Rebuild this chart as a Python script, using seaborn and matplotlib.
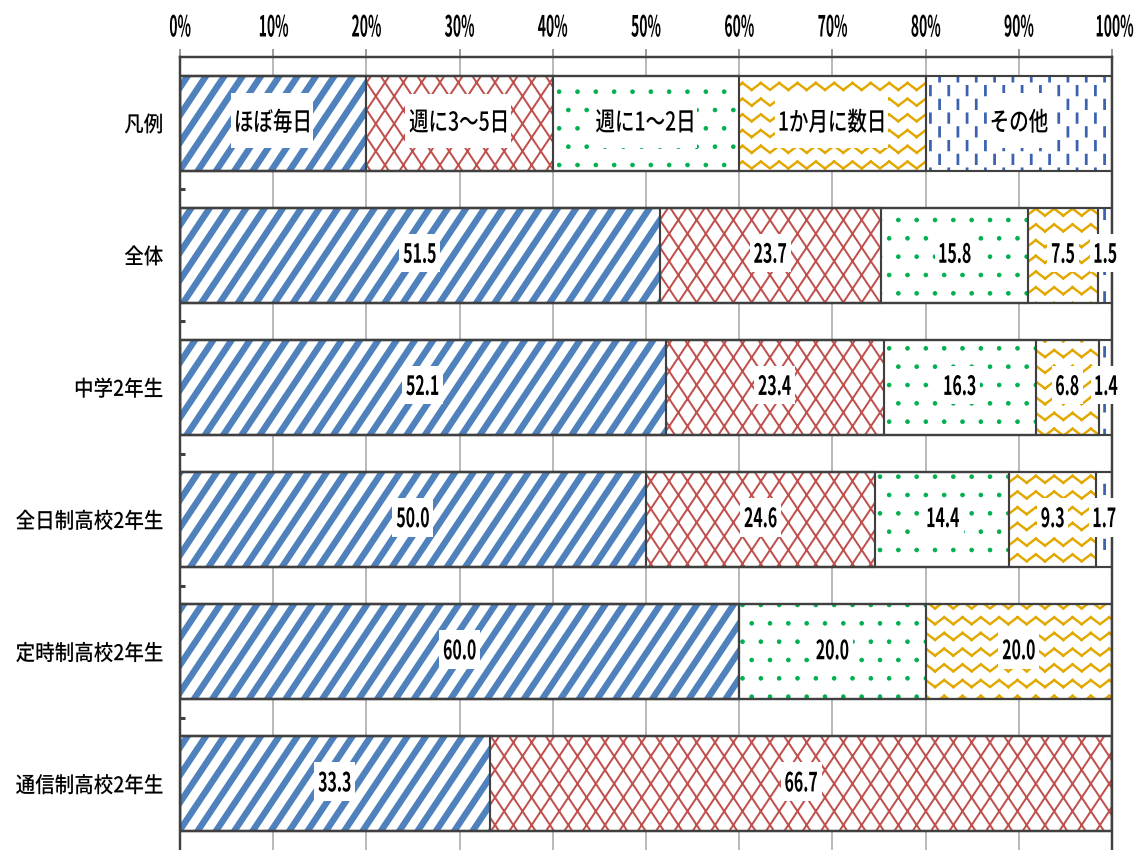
import numpy as np
import matplotlib
matplotlib.use("Agg")
import matplotlib.pyplot as plt
import matplotlib.hatch as mhatch
from matplotlib import patheffects
from matplotlib.path import Path
from matplotlib.transforms import Affine2D, ScaledTranslation
import seaborn as sns

# ---------------- data ----------------
categories = ["凡例", "全体", "中学2年生", "全日制高校2年生", "定時制高校2年生", "通信制高校2年生"]
series_names = ["ほぼ毎日", "週に3～5日", "週に1～2日", "1か月に数日", "その他"]
daily = [20, 51.5, 52.1, 50.0, 60.0, 33.3]
week35 = [20, 23.7, 23.4, 24.6, 0.0, 66.7]
week12 = [20, 15.8, 16.3, 14.4, 20.0, 0.0]
monthly = [20, 7.5, 6.8, 9.3, 20.0, 0.0]
other = [20, 1.5, 1.4, 1.7, 0.0, 0.0]
x_ticks = [0, 10, 20, 30, 40, 50, 60, 70, 80, 90, 100]
x_tick_labels = [f"{t}%" for t in x_ticks]

# ---------------- custom hatch patterns ----------------
class _SteepHatch(mhatch.HatchPatternBase):
    """steep diagonal lines (slope 1.5), tiling seamlessly in the unit cell"""
    chars = ()
    sign = 1

    def __init__(self, hatch, density):
        self.on = any(ch in hatch for ch in self.chars)
        self.n = 6
        self.js = list(range(-5, 12))
        self.num_vertices = 2 * len(self.js) if self.on else 0

    def set_vertices_and_codes(self, vertices, codes):
        k = 0
        for j in self.js:
            x0 = j / self.n
            vertices[k] = (x0, 0.0)
            vertices[k + 1] = (x0 + self.sign / 1.5, 1.0)
            codes[k] = Path.MOVETO
            codes[k + 1] = Path.LINETO
            k += 2


class SteepNE(_SteepHatch):
    chars = ("/", "x")
    sign = 1


class SteepNW(_SteepHatch):
    chars = ("\\", "x")
    sign = -1


class VDashHatch(mhatch.HatchPatternBase):
    """staggered short vertical dashes (triggered by '|')"""
    def __init__(self, hatch, density):
        self.on = "|" in hatch
        self.rows, self.cols = 8, 6
        self.num_vertices = self.rows * self.cols * 2 if self.on else 0

    def set_vertices_and_codes(self, vertices, codes):
        k = 0
        for r in range(self.rows):
            y0 = r / self.rows
            for c in range(self.cols):
                x = (c + 0.25 + 0.5 * (r % 2)) / self.cols
                vertices[k] = (x, y0 + 0.1 / self.rows)
                vertices[k + 1] = (x, y0 + 0.72 / self.rows)
                codes[k] = Path.MOVETO
                codes[k + 1] = Path.LINETO
                k += 2


class ZigZagHatch(mhatch.HatchPatternBase):
    """horizontal zigzag rows made of separate segments (triggered by '*')"""
    def __init__(self, hatch, density):
        self.on = "*" in hatch
        self.rows, self.cols = 7, 6
        self.nseg = 2 * self.cols
        self.num_vertices = self.rows * self.nseg * 2 if self.on else 0

    def set_vertices_and_codes(self, vertices, codes):
        k = 0
        amp = 0.22 / self.rows
        step = 1.0 / self.nseg
        for r in range(self.rows):
            yc = (r + 0.5) / self.rows
            for j in range(self.nseg):
                ya = yc + (amp if j % 2 else -amp)
                yb = yc + (-amp if j % 2 else amp)
                vertices[k] = (j * step, ya)
                vertices[k + 1] = ((j + 1) * step, yb)
                codes[k] = Path.MOVETO
                codes[k + 1] = Path.LINETO
                k += 2


_drop = ("VerticalHatch", "Stars", "NorthEastHatch", "SouthEastHatch")
_keep = [t for t in mhatch._hatch_types if t.__name__ not in _drop]
mhatch._hatch_types = _keep + [SteepNE, SteepNW, VDashHatch, ZigZagHatch]


# ---------------- condensed text effect ----------------
class Squash(patheffects.AbstractPathEffect):
    """Horizontally condense the glyphs; optionally put a white box behind them."""
    def __init__(self, sx, anchor="center", box_pad=None):
        super().__init__()
        self.sx = sx
        self.anchor = anchor
        self.box_pad = box_pad

    def draw_path(self, renderer, gc, tpath, affine, rgbFace=None):
        ext = tpath.get_extents(affine)
        if self.anchor == "right":
            a = ext.x1
        elif self.anchor == "left":
            a = ext.x0
        else:
            a = 0.5 * (ext.x0 + ext.x1)
        tr = affine + Affine2D().translate(-a, 0).scale(self.sx, 1).translate(a, 0)
        if self.box_pad is not None:
            e2 = tpath.get_extents(tr)
            px = renderer.points_to_pixels(self.box_pad[0])
            py = renderer.points_to_pixels(self.box_pad[1])
            rt = Affine2D().scale(e2.width + 2 * px, e2.height + 2 * py).translate(e2.x0 - px, e2.y0 - py)
            renderer.draw_path(gc, Path.unit_rectangle(), rt, (1, 1, 1, 1))
        renderer.draw_path(gc, tpath, tr, rgbFace)


# ---------------- style ----------------
sns.set_style("white")
plt.rcParams["font.family"] = ["Noto Sans CJK JP", "DejaVu Sans"]

hatch_colors = ["#4F81BD", "#C0504D", "#00B050", "#E3A800", "#3A62B0"]
hatches = ["/", "x", ".", "*", "|"]
hatch_lws = [4.2, 1.3, 0.6, 1.6, 1.8]
outline = "#404040"
bar_w = 0.72

DPI = 110
fig = plt.figure(figsize=(1134 / DPI, 850 / DPI), dpi=DPI)
ax = fig.add_axes([180 / 1134, 0.0, (1112 - 180) / 1134, 1 - 57 / 850])

series = [daily, week35, week12, monthly, other]
vals = np.array(series, dtype=float)
cum = np.cumsum(vals, axis=0)

# hatch layers (largest cumulative first, so shorter ones cover)
for i in range(len(series) - 1, -1, -1):
    with plt.rc_context({"hatch.linewidth": hatch_lws[i]}):
        sns.barplot(x=cum[i], y=categories, order=categories, orient="h",
                    facecolor="white", edgecolor=hatch_colors[i], linewidth=0,
                    hatch=hatches[i], width=bar_w, errorbar=None, ax=ax)
        n = len(categories)
        for p in ax.patches[-n:]:
            if hasattr(p, "set_hatch_linewidth"):
                p.set_hatch_linewidth(hatch_lws[i])

# outlines
for i in range(len(series)):
    sns.barplot(x=cum[i], y=categories, order=categories, orient="h",
                facecolor=(0, 0, 0, 0), edgecolor=outline, linewidth=1.4,
                width=bar_w, errorbar=None, ax=ax)

# labels
for r, cat in enumerate(categories):
    left = 0.0
    for s in range(len(series)):
        v = vals[s, r]
        if v > 0:
            if r == 0:
                ax.text(left + v / 2, r, series_names[s], ha="center", va="center",
                        fontsize=17, color="black", zorder=5, fontweight="medium",
                        path_effects=[Squash(0.75, "center", box_pad=(3.0, 10.0))])
            else:
                ax.text(left + v / 2, r, f"{v:.1f}", ha="center", va="center",
                        fontsize=17.3, color="black", zorder=5, fontweight="bold",
                        path_effects=[Squash(0.6, "center", box_pad=(3.0, 6.0))])
        left += v

# axes styling
ax.set_xlim(0, 100)
ax.set_ylim(len(categories) - 0.5, -0.5)
ax.set_xlabel("")
ax.set_ylabel("")
ax.xaxis.tick_top()
ax.set_xticks(x_ticks, labels=x_tick_labels)
ax.set_yticks(range(len(categories)), labels=categories)
ax.set_yticks(np.arange(0.5, len(categories) - 0.5, 1.0), minor=True)
ax.tick_params(axis="x", which="major", top=True, bottom=False, length=5.5, width=1.0,
               color="#808080", pad=4, labelsize=19, labelcolor="black")
ax.tick_params(axis="y", which="major", left=False, length=0, pad=11, labelsize=14.2, labelcolor="black")
ax.tick_params(axis="y", which="minor", left=True, direction="in", length=3, width=2, color=outline)
xlabels = ax.get_xticklabels()
for lbl in xlabels:
    lbl.set_fontweight("bold")
    lbl.set_path_effects([Squash(0.48, "center")])
# last tick label: right-anchored so it stays inside the canvas, like the reference
last = xlabels[-1]
last.set_horizontalalignment("right")
last.set_path_effects([Squash(0.48, "right")])
last.set_transform(last.get_transform() + ScaledTranslation(22 / DPI, 0, fig.dpi_scale_trans))
for lbl in ax.get_yticklabels():
    lbl.set_fontweight("medium")
    lbl.set_path_effects([Squash(0.9, "right")])
ax.grid(axis="x", color="#a6a6a6", linewidth=1.0)
ax.grid(axis="y", visible=False)
ax.set_axisbelow(True)
for side in ["top", "left", "right"]:
    ax.spines[side].set_visible(True)
    ax.spines[side].set_color(outline)
    ax.spines[side].set_linewidth(1.6)
ax.spines["bottom"].set_visible(False)

fig.savefig("out.png", dpi=DPI)
